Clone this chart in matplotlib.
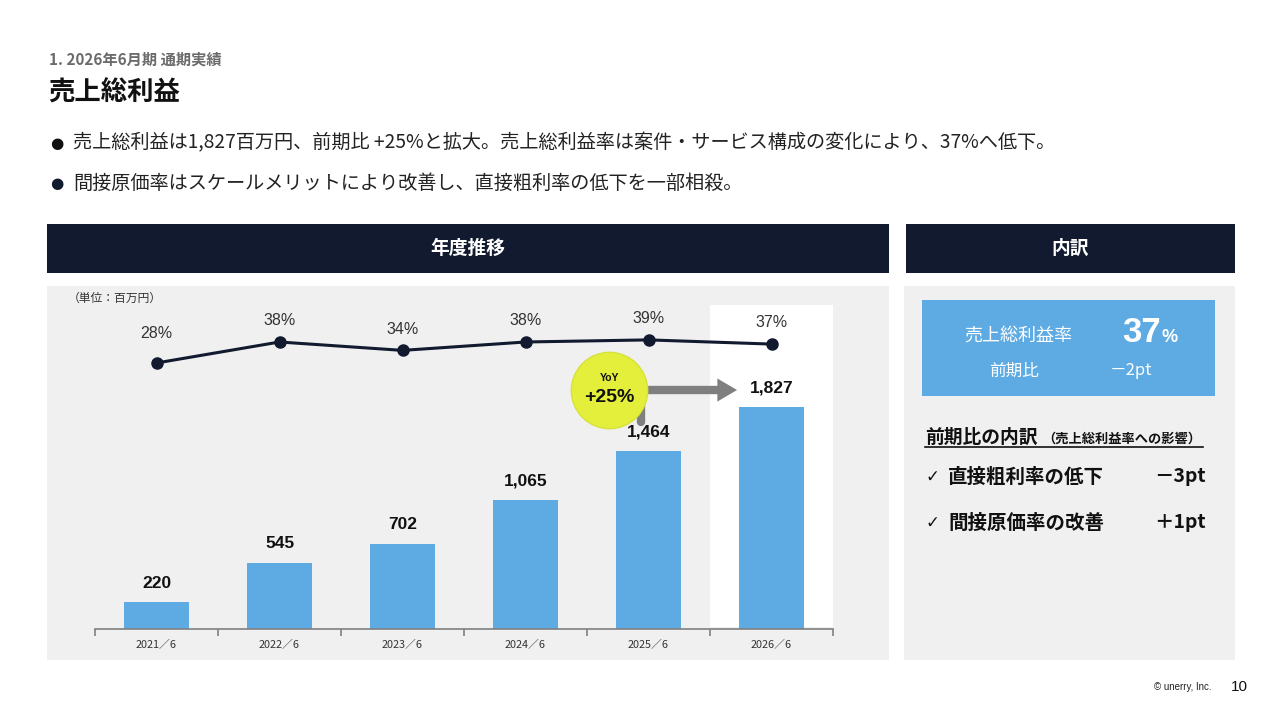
import matplotlib
matplotlib.use("Agg")
import matplotlib.pyplot as plt
from matplotlib.patches import Rectangle, Polygon

plt.rcParams['font.family'] = ['Noto Sans CJK JP', 'DejaVu Sans']

# ---- data ----
categories = ['2021／6', '2022／6', '2023／6', '2024／6', '2025／6', '2026／6']
gross_profit = [220, 545, 702, 1065, 1464, 1827]
gross_margin = [28, 38, 34, 38, 39, 37]
bar_labels = ['220', '545', '702', '1,065', '1,464', '1,827']
margin_labels = ['28%', '38%', '34%', '38%', '39%', '37%']
yoy_text = '+25%'

W, H = 1280, 720
fig = plt.figure(figsize=(12.8, 7.2), dpi=100)
fig.patch.set_facecolor('white')

NAVY = '#111a2e'
BLUE = '#5eabe4'
PANEL = '#f0f0f0'


def ft(x, y, s, **kw):
    return fig.text(x / W, 1 - y / H, s, **kw)


def frect(x0, y0, x1, y1, color, **kw):
    r = Rectangle((x0 / W, 1 - y1 / H), (x1 - x0) / W, (y1 - y0) / H,
                  transform=fig.transFigure, facecolor=color, edgecolor='none', zorder=-5, **kw)
    fig.patches.append(r)
    return r


# ---- header texts ----
ft(49, 60, '1. 2026年6月期 通期実績', fontsize=11, color='#6b6b6b', fontweight='bold', va='center')
ft(48, 93, '売上総利益', fontsize=19, color='#111111', fontweight='bold', va='center')
ft(57, 143, '●', fontsize=11, color='#111111', va='center', ha='center', family=['DejaVu Sans'])
ft(57, 183, '●', fontsize=11, color='#111a2e', va='center', ha='center', family=['DejaVu Sans'])
ft(73, 143, '売上総利益は1,827百万円、前期比 +25%と拡大。売上総利益率は案件・サービス構成の変化により、37%へ低下。',
   fontsize=13.8, color='#222222', va='center')
ft(73, 183, '間接原価率はスケールメリットにより改善し、直接粗利率の低下を一部相殺。',
   fontsize=13.8, color='#222222', va='center')

# ---- section bars and panels ----
frect(47, 224, 889, 273, NAVY)
frect(906, 224, 1235, 273, NAVY)
ft(468, 248, '年度推移', fontsize=13.5, color='white', fontweight='bold', ha='center', va='center')
ft(1070, 248, '内訳', fontsize=13.5, color='white', fontweight='bold', ha='center', va='center')
frect(47, 286, 889, 660, PANEL)
frect(904, 286, 1235, 660, PANEL)

ft(68, 298, '（単位：百万円）', fontsize=8.5, color='#333333', va='center')

# ---- chart ----
ax_left, ax_right, ax_bottom, ax_top = 95, 833, 629, 300
ax = fig.add_axes([ax_left / W, 1 - ax_bottom / H, (ax_right - ax_left) / W, (ax_bottom - ax_top) / H])
ax.set_facecolor('none')
ymax = 2708
ax.set_xlim(-0.5, 5.5)
ax.set_ylim(0, ymax)
x = list(range(len(categories)))

# highlight for latest year
ax.add_patch(Rectangle((4.5, 15), 1.0, 2650, facecolor='white', edgecolor='none', zorder=0))

ax.bar(x, gross_profit, width=0.53, color=BLUE, zorder=2)
for xi, v, lab in zip(x, gross_profit, bar_labels):
    ax.text(xi, v + 95, lab, ha='center', va='bottom', fontsize=12.5, fontweight='bold',
            color='#111111', family=['Liberation Sans', 'DejaVu Sans'], zorder=5)

for s in ['top', 'right', 'left']:
    ax.spines[s].set_visible(False)
ax.spines['bottom'].set_color('#808080')
ax.spines['bottom'].set_linewidth(1.2)
ax.set_yticks([])
ax.set_xticks([i + 0.5 for i in range(-1, 6)])
ax.set_xticklabels([])
ax.tick_params(axis='x', which='major', length=5, color='#808080', width=1.2, direction='out')
ax.set_xticks(x, minor=True)
ax.set_xticklabels(categories, minor=True, fontsize=7.8, color='#333333')
ax.tick_params(axis='x', which='minor', length=0, pad=8)

# YoY arrow and bubble
arrow_y = 1967
ax.plot([3.94, 3.94, 4.57], [1700, arrow_y, arrow_y], color='#7f7f7f', lw=6,
        solid_joinstyle='miter', solid_capstyle='round', zorder=6)
ax.add_patch(Polygon([(4.56, arrow_y + 95), (4.72, arrow_y), (4.56, arrow_y - 95)],
                     closed=True, facecolor='#7f7f7f', edgecolor='none', zorder=6))
ax.plot([3.68], [arrow_y], 'o', ms=55, color='#e3ef3b', mec='#d6e23a', mew=1, zorder=7)
ax.text(3.68, arrow_y + 100, 'YoY', ha='center', va='center', fontsize=7.5, fontweight='bold',
        color='#111111', family=['Liberation Sans', 'DejaVu Sans'], zorder=8)
ax.text(3.68, arrow_y - 60, yoy_text, ha='center', va='center', fontsize=14, fontweight='bold',
        color='#111111', family=['Liberation Sans', 'DejaVu Sans'], zorder=8)

# margin line on twin axis
ax2 = ax.twinx()
ax2.set_ylim(-98.7, 58)
ax2.axis('off')
ax2.plot(x, gross_margin, color=NAVY, lw=2.2, marker='o', ms=8, zorder=4)
label_pad = [10.5, 6.5, 6.5, 6.5, 6.5, 6.5]
for xi, v, lab, pad in zip(x, gross_margin, margin_labels, label_pad):
    ax2.text(xi, v + pad, lab, ha='center', va='bottom', fontsize=11.5, color='#333333',
             family=['Liberation Sans', 'DejaVu Sans'])

# ---- right panel ----
frect(922, 300, 1215, 396, BLUE)
ft(1018, 336, '売上総利益率', fontsize=13, color='white', ha='center', va='center')
ft(1161, 342, '37', fontsize=25, color='white', fontweight='bold', ha='right', va='baseline',
   family=['Liberation Sans', 'DejaVu Sans'])
ft(1161, 342, '%', fontsize=13, color='white', fontweight='bold', ha='left', va='baseline',
   family=['Liberation Sans', 'DejaVu Sans'])
ft(1014, 371, '前期比', fontsize=12, color='white', ha='center', va='center')
ft(1131, 371, '－2pt', fontsize=12, color='white', ha='center', va='center')

ft(925, 437, '前期比の内訳', fontsize=13.5, color='#111111', fontweight='bold', va='center')
ft(1042, 439, '（売上総利益率への影響）', fontsize=9.5, color='#111111', fontweight='bold', va='center')
fig.add_artist(plt.Line2D([925 / W, 1203 / W], [1 - 447 / H, 1 - 447 / H], color='#111111', lw=1.2))

ft(925, 477, '✓', fontsize=12, color='#111111', va='center', fontweight='bold', family=['DejaVu Sans'])
ft(948, 477, '直接粗利率の低下', fontsize=14, color='#111111', fontweight='bold', va='center')
ft(1206, 477, '－3pt', fontsize=14, color='#111111', fontweight='bold', va='center', ha='right')
ft(925, 523, '✓', fontsize=12, color='#111111', va='center', fontweight='bold', family=['DejaVu Sans'])
ft(948, 523, '間接原価率の改善', fontsize=14, color='#111111', fontweight='bold', va='center')
ft(1206, 523, '＋1pt', fontsize=14, color='#111111', fontweight='bold', va='center', ha='right')

# ---- footer ----
ft(1211, 687, '© unerry, Inc.', fontsize=7, color='#222222', ha='right', va='center',
   family=['Liberation Sans', 'DejaVu Sans'])
ft(1248, 687, '10', fontsize=11, color='#111111', ha='right', va='center',
   family=['Liberation Sans', 'DejaVu Sans'])

fig.savefig('out.png', dpi=100, facecolor='white')
